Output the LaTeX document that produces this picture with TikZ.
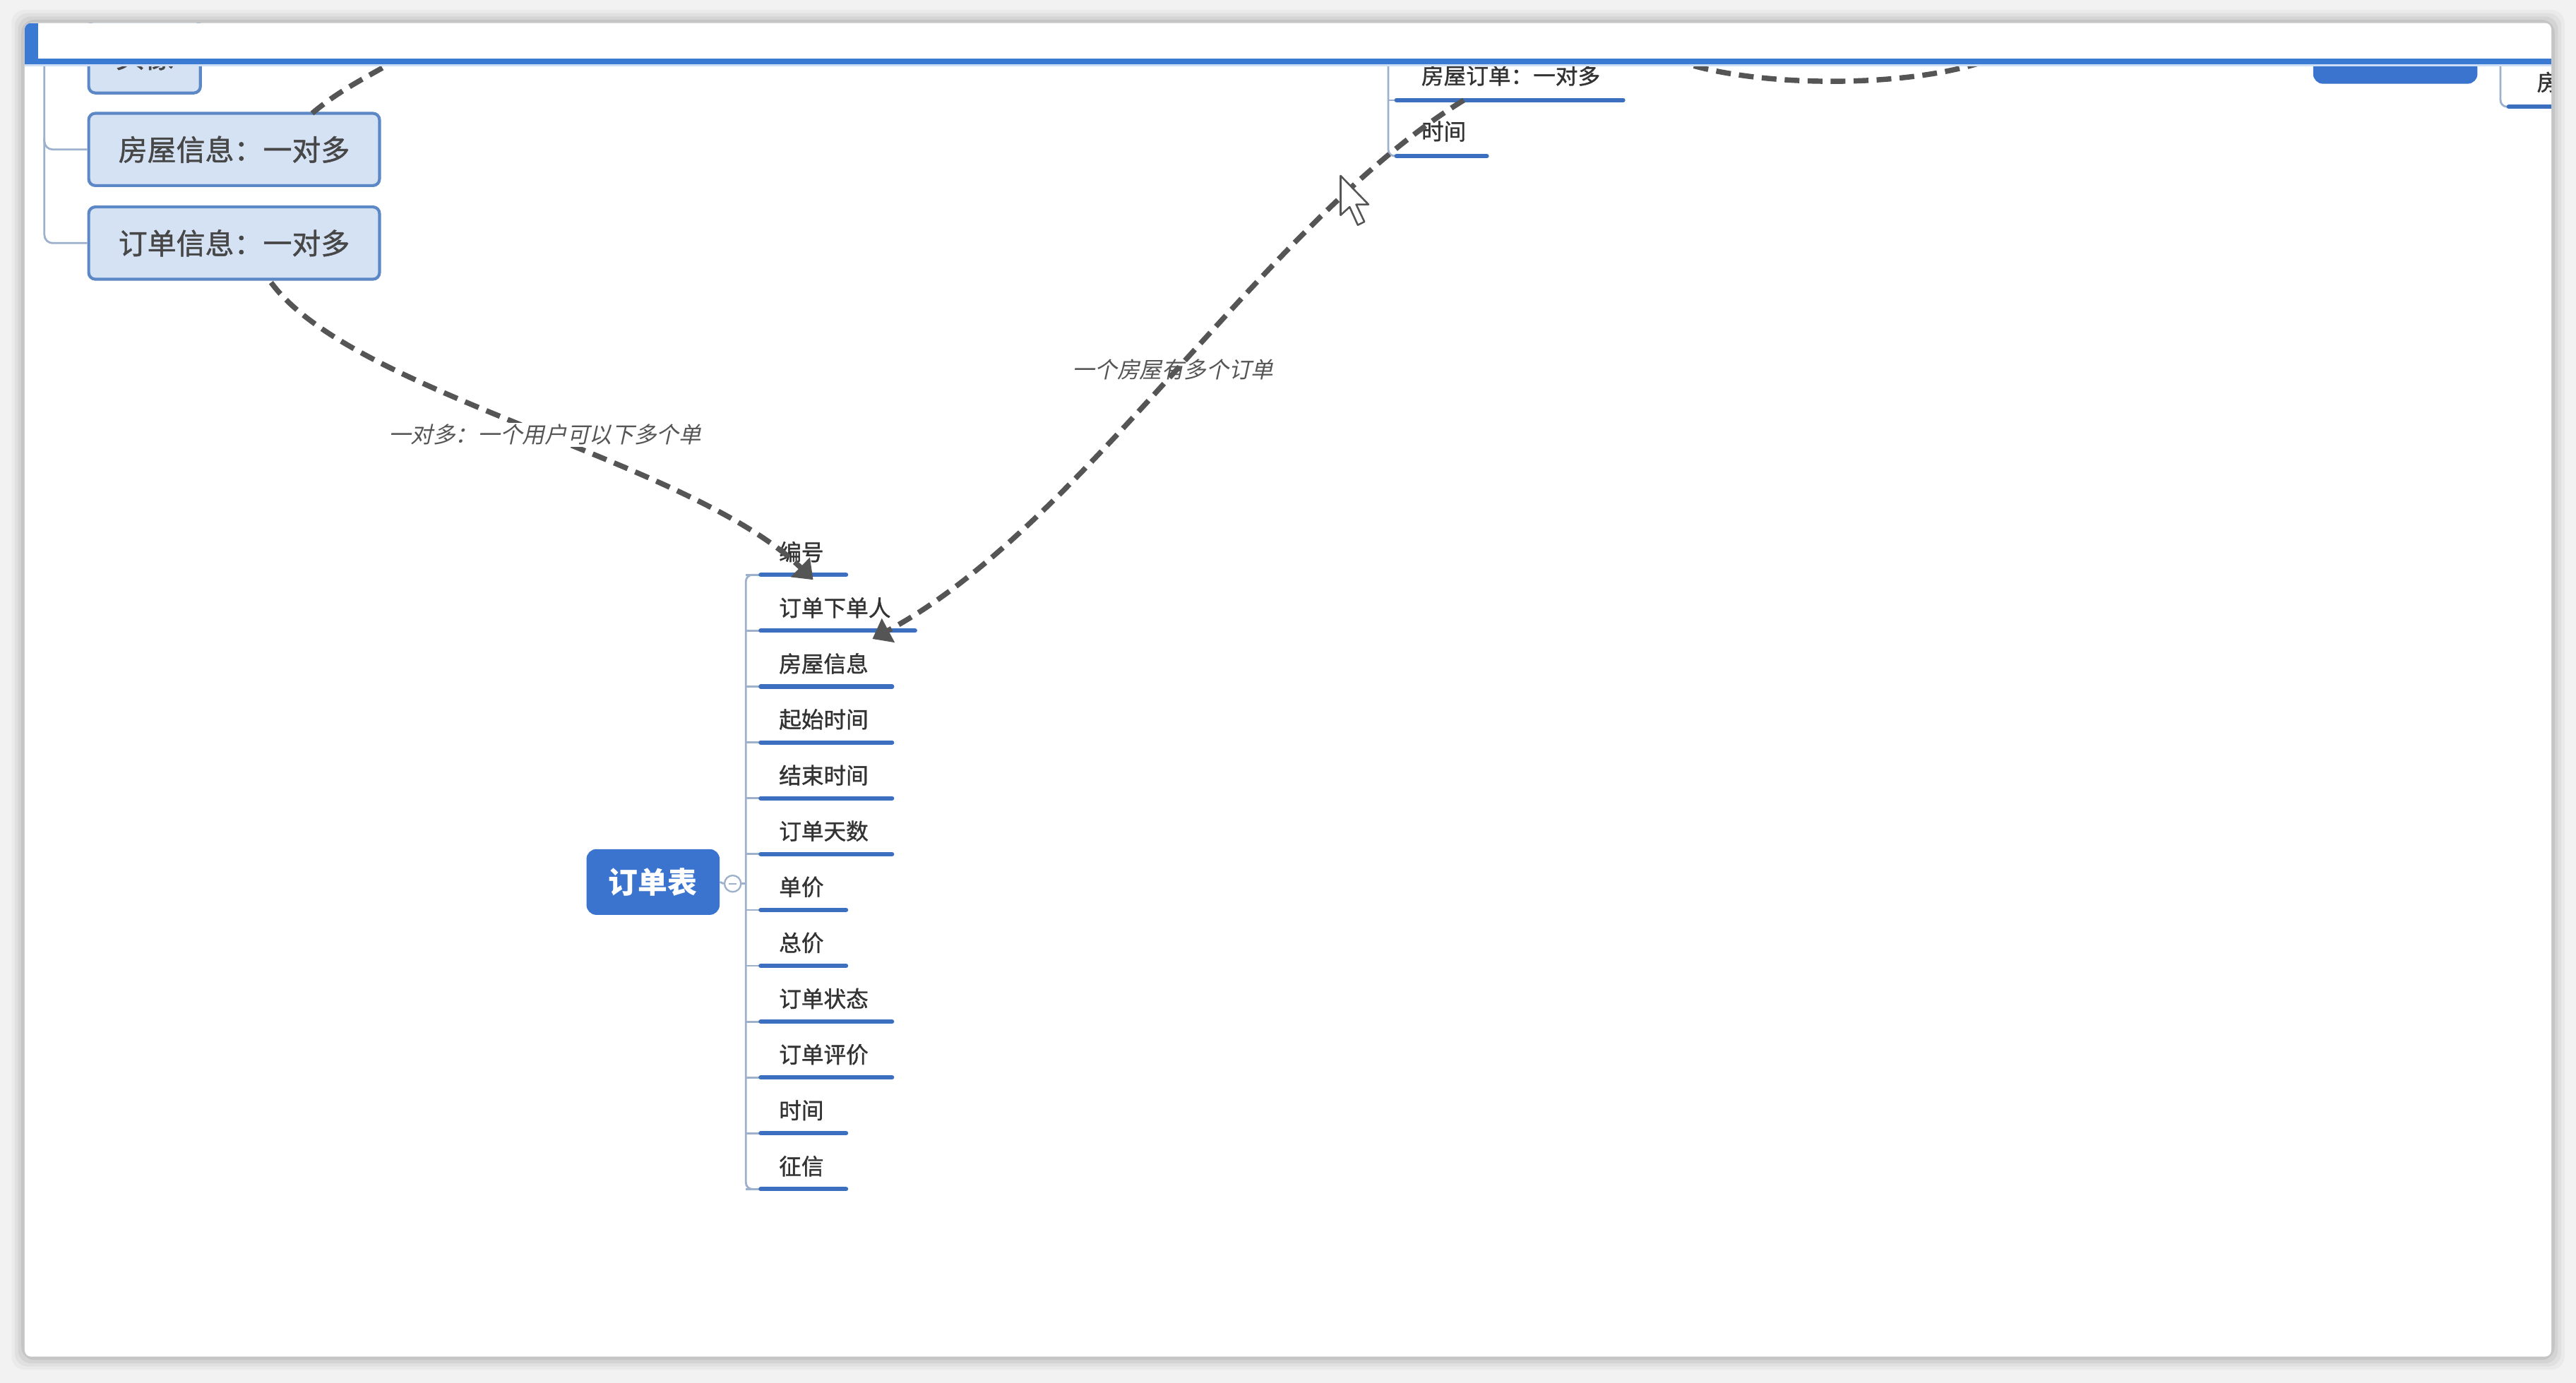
\documentclass[tikz,border=0pt]{standalone}
\usepackage{fontspec}
\setmainfont{Noto Sans CJK SC}
\newfontfamily\cjkmed[FakeBold=1.2]{Noto Sans CJK SC}
\newfontfamily\cjkit[FakeSlant=0.22]{Noto Sans CJK SC}
\usetikzlibrary{arrows.meta}
\definecolor{bgc}{HTML}{F2F2F2}
\definecolor{lineblue}{HTML}{3B7AD3}
\definecolor{rootblue}{HTML}{3A74CF}
\definecolor{boxfill}{HTML}{D5E2F4}
\definecolor{boxdraw}{HTML}{5D88C6}
\definecolor{ulc}{HTML}{3C6FC0}
\definecolor{spinec}{HTML}{9DB0CC}
\definecolor{dashc}{HTML}{555555}
\definecolor{txt}{HTML}{333333}
\begin{document}
\begin{tikzpicture}[x=1pt,y=-1pt,
  item/.style={anchor=west,inner sep=0pt,text=txt,font=\cjkmed\fontsize{13.6pt}{15pt}\selectfont},
  uline/.style={draw=ulc,line width=2.6pt,line cap=round},
  spine/.style={draw=spinec,line width=1.2pt},
  rbox/.style={draw=boxdraw,fill=boxfill,line width=1.8pt,rounded corners=4pt,minimum height=44pt,inner sep=0pt,text=txt!90,font=\cjkmed\fontsize{17.6pt}{19pt}\selectfont},
  rootbox/.style={fill=rootblue,rounded corners=6pt,minimum width=81pt,minimum height=40pt,inner sep=0pt,text=white,font=\bfseries\fontsize{18pt}{20pt}\selectfont},
  rel/.style={draw=dashc,line width=3.2pt,dash pattern=on 9pt off 5pt,-{Triangle[length=11pt,width=16pt]}},
  relplain/.style={draw=dashc,line width=3.2pt,dash pattern=on 9pt off 5pt},
  lbl/.style={inner sep=1pt,text=dashc,font=\cjkit\fontsize{13.6pt}{15pt}\selectfont}
]
\useasboundingbox (0,0) rectangle (1568,842);
\fill[bgc] (0,0) rectangle (1568,842);
% panel shadow
\foreach \d/\o in {8/0.03,6/0.04,4/0.05,2/0.07}{
  \fill[black,opacity=\o,rounded corners=8pt] (15-\d,14-\d) rectangle (1553+\d,826+\d);
}
\fill[white,rounded corners=4pt] (15,14) rectangle (1553,826);
\begin{scope}
\clip[rounded corners=4pt] (15,14) rectangle (1553,826);

% ---------- top-left tree ----------
\node[rbox,minimum width=68pt] (tx) at (88,34.6) {头像};
\node[rbox,minimum width=177pt] (hx) at (142.5,91) {房屋信息：一对多};
\node[rbox,minimum width=177pt] (dd) at (142.5,148) {订单信息：一对多};
\draw[spine,rounded corners=5pt] (27,30) -- (27,148) -- (dd.west);
\draw[spine,rounded corners=5pt] (27,84) -- (27,91) -- (hx.west);
\coordinate (hxtop) at (190,69);
\coordinate (offA) at (252,30);
\draw[relplain] (hxtop) .. controls (210,52) and (230,44) .. (offA);

% ---------- order table ----------
\node[rootbox] (root) at (397.5,537) {订单表};
\node[circle,draw=spinec,line width=1pt,minimum size=10pt,inner sep=0pt] (tog) at (446,538) {};
\draw[spinec,line width=0.9pt] (443.5,538) -- (448.5,538);
\draw[spine] (root.east) -- (tog.west);
\draw[spine] (tog.east) -- (454,538);
\draw[spine,rounded corners=4pt] (464,350) -- (454,350) -- (454,724) -- (464,724);
\foreach \t/\yy/\xe [count=\i] in {编号/336/515,订单下单人/370/557,房屋信息/404/543,起始时间/438/543,结束时间/472/543,订单天数/506/543,单价/540/515,总价/574/515,订单状态/608/543,订单评价/642/543,时间/676/515,征信/710/515}{
  \node[item] (c\i) at (474,\yy) {\t};
  \draw[spine] (454,\yy+14) -- (464,\yy+14);
  \draw[uline] (463,\yy+14) -- (\xe,\yy+14);
}

% ---------- top-right tree ----------
\draw[spine,rounded corners=4pt] (845,30) -- (845,95) -- (852,95);
\draw[spine] (845,61) -- (852,61);
\node[item] (r1) at (865,46) {房屋订单：一对多};
\draw[uline] (850,61) -- (988,61);
\node[item] (r2) at (865,80) {时间};
\draw[uline] (850,95) -- (905,95);

% ---------- relations ----------
\coordinate (ddbot) at (165,172);
\coordinate (c1end) at (495,353);
\draw[rel] (ddbot) .. controls (215,240) and (420,280) .. node[pos=0.5,lbl,fill=white,xshift=11pt,yshift=-4pt] {一对多：一个用户可以下多个单} (c1end);
\coordinate (r1a) at (891,61);
\coordinate (c2end) at (531,389);
\draw[rel] (r1a) .. controls (770,135) and (660,320) .. node[pos=0.5,lbl,yshift=2pt] {一个房屋有多个订单} (c2end);
\coordinate (offB) at (1005,30);
\coordinate (offC) at (1225,30);
\draw[relplain] (offB) .. controls (1050,56) and (1180,56) .. (offC);

% ---------- far right partial ----------
\fill[rootblue,rounded corners=6pt] (1408,18) rectangle (1508,51);
\draw[spine,rounded corners=4pt] (1522,30) -- (1522,65) -- (1530,65);
\draw[uline] (1527,65) -- (1565,65);
\node[item] (fr) at (1544,50) {房};

% ---------- mouse cursor ----------
\draw[fill=white,draw=dashc,line width=1.1pt,line join=round]
  (816,107) -- (816,131) -- (821.5,126) -- (826.5,137) -- (830.5,135) -- (825.5,124.5) -- (833,124.5) -- cycle;

% ---------- toolbar ----------
\fill[white] (15,14) rectangle (1553,36);
\fill[lineblue!25] (15,38.5) rectangle (1553,40.5);
\fill[lineblue] (15,35.8) rectangle (1553,39);
\fill[lineblue] (15,14) rectangle (23,38);
\end{scope}
\end{tikzpicture}
\end{document}
